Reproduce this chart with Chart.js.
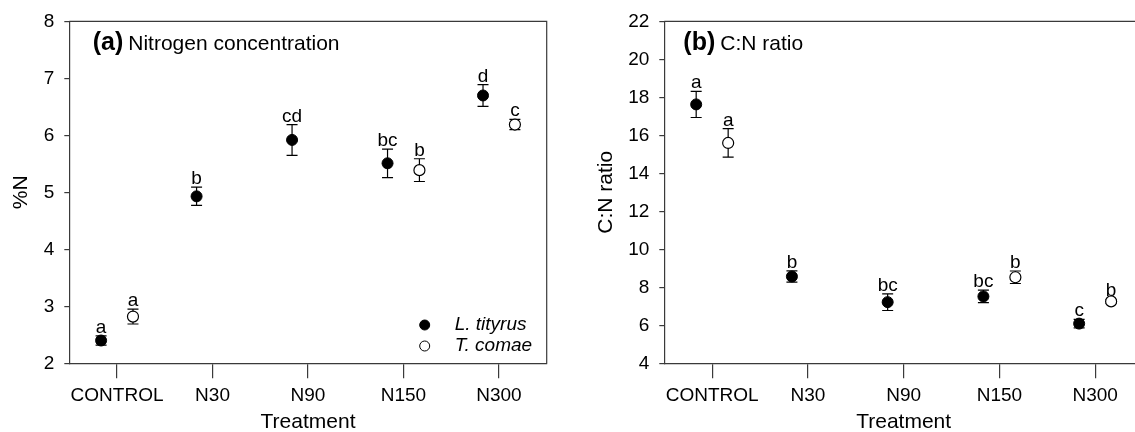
<!DOCTYPE html>
<html>
<head>
<meta charset="utf-8">
<script src="https://cdn.jsdelivr.net/npm/chart.js@4.4.1/dist/chart.umd.min.js"></script>
<style>
html, body { margin: 0; padding: 0; background: #fff; overflow: hidden; width: 1135px; height: 432px; }
#wrapA { position: absolute; left: 0; top: 0; width: 567px; height: 432px; }
#wrapB { position: absolute; left: 567px; top: 0; width: 620px; height: 432px; }
</style>
</head>
<body>
<div id="wrapA"><canvas id="chartA"></canvas></div>
<div id="wrapB"><canvas id="chartB"></canvas></div>
<script>
// categorias y datos
const treatments = ["CONTROL", "N30", "N90", "N150", "N300"];

// (a) %N
const nTityrus = [2.40, 4.93, 5.92, 5.51, 6.70];
const nTityrusErr = [0.08, 0.16, 0.27, 0.25, 0.19];
const nTityrusLetters = ["a", "b", "cd", "bc", "d"];
const nComae = [2.82, null, null, 5.39, 6.19];
const nComaeErr = [0.13, null, null, 0.20, 0.09];
const nComaeLetters = ["a", null, null, "b", "c"];
const yTicksA = [2, 3, 4, 5, 6, 7, 8];

// (b) C:N ratio
const cnTityrus = [17.63, 8.57, 7.22, 7.52, 6.09];
const cnTityrusErr = [0.69, 0.30, 0.44, 0.33, 0.22];
const cnTityrusLetters = ["a", "b", "bc", "bc", "c"];
const cnComae = [15.60, null, null, 8.53, 7.26];
const cnComaeErr = [0.75, null, null, 0.33, 0.10];
const cnComaeLetters = ["a", null, null, "b", "b"];
const yTicksB = [4, 6, 8, 10, 12, 14, 16, 18, 20, 22];

const seriesNames = ["L. tityrus", "T. comae"];

const FONT = "'Liberation Sans', Arial, sans-serif";
const AXIS_COLOR = "#3a3a3a";
const OFF_L = -0.167, OFF_R = 0.167;

Chart.defaults.font.family = FONT;
Chart.defaults.color = "#000";

function toPoints(values, off) {
    return values.map((v, i) => v == null ? null : { x: i + off, y: v }).filter(p => p);
}

// Plugin: barras de error, letras, caja, titulo y leyenda
const panelPlugin = {
    id: "panel",
    beforeDatasetsDraw(chart, args, opts) {
        const { ctx } = chart;
        const xs = chart.scales.x, ys = chart.scales.y;
        ctx.save();
        ctx.strokeStyle = "#000";
        ctx.lineWidth = 1.2;
        opts.series.forEach(s => {
            s.values.forEach((v, i) => {
                if (v == null || s.errors[i] == null) return;
                const px = xs.getPixelForValue(i + s.offset);
                const top = ys.getPixelForValue(v + s.errors[i]);
                const bot = ys.getPixelForValue(v - s.errors[i]);
                ctx.beginPath();
                ctx.moveTo(px, top); ctx.lineTo(px, bot);
                ctx.moveTo(px - 5.5, top); ctx.lineTo(px + 5.5, top);
                ctx.moveTo(px - 5.5, bot); ctx.lineTo(px + 5.5, bot);
                ctx.stroke();
            });
        });
        ctx.restore();
    },
    afterDatasetsDraw(chart, args, opts) {
        const { ctx, chartArea } = chart;
        const xs = chart.scales.x, ys = chart.scales.y;
        ctx.save();
        // letras de significancia
        ctx.fillStyle = "#000";
        ctx.font = "19px " + FONT;
        ctx.textAlign = "center";
        ctx.textBaseline = "alphabetic";
        opts.series.forEach(s => {
            s.values.forEach((v, i) => {
                if (v == null || !s.letters[i]) return;
                const px = xs.getPixelForValue(i + s.offset);
                const top = ys.getPixelForValue(v + s.errors[i]);
                ctx.fillText(s.letters[i], px, top - 3);
            });
        });
        // caja superior y derecha
        ctx.strokeStyle = AXIS_COLOR;
        ctx.lineWidth = 1.2;
        ctx.beginPath();
        ctx.moveTo(chartArea.left, chartArea.top);
        ctx.lineTo(chartArea.right, chartArea.top);
        ctx.lineTo(chartArea.right, chartArea.bottom);
        ctx.stroke();
        // titulo del panel
        ctx.textAlign = "left";
        ctx.font = "bold 25px " + FONT;
        ctx.fillText(opts.tag, opts.titleX, 50);
        const w = ctx.measureText(opts.tag).width;
        ctx.font = "21px " + FONT;
        ctx.fillText(opts.title, opts.titleX + w + 5, 50);
        // leyenda
        if (opts.legend) {
            const lg = opts.legend;
            ctx.textBaseline = "middle";
            ctx.font = "italic 19px " + FONT;
            seriesNames.forEach((name, k) => {
                const y = lg.y + k * 21;
                ctx.beginPath();
                ctx.arc(lg.x, y, 5, 0, Math.PI * 2);
                ctx.fillStyle = k === 0 ? "#000" : "#fff";
                ctx.fill();
                ctx.strokeStyle = "#000";
                ctx.lineWidth = 1;
                ctx.stroke();
                ctx.fillStyle = "#000";
                ctx.fillText(name, lg.x + 30, y);
            });
        }
        ctx.restore();
    }
};

function makePanel(id, cfg) {
    return new Chart(document.getElementById(id), {
        type: "scatter",
        data: {
            datasets: [
                {
                    label: seriesNames[0],
                    data: toPoints(cfg.tityrus, OFF_L),
                    backgroundColor: "#000",
                    borderColor: "#000",
                    borderWidth: 1,
                    pointRadius: 5.5,
                    pointHoverRadius: 5.5
                },
                {
                    label: seriesNames[1],
                    data: toPoints(cfg.comae, OFF_R),
                    backgroundColor: "#fff",
                    borderColor: "#000",
                    borderWidth: 1.2,
                    pointRadius: 5.5,
                    pointHoverRadius: 5.5
                }
            ]
        },
        options: {
            responsive: true,
            maintainAspectRatio: false,
            animation: false,
            events: [],
            layout: { padding: { top: 19, right: cfg.padRight, left: 0, bottom: 0 } },
            plugins: {
                legend: { display: false },
                tooltip: { enabled: false },
                panel: {
                    series: [
                        { values: cfg.tityrus, errors: cfg.tityrusErr, letters: cfg.tityrusLetters, offset: OFF_L },
                        { values: cfg.comae, errors: cfg.comaeErr, letters: cfg.comaeLetters, offset: OFF_R }
                    ],
                    tag: cfg.tag,
                    title: cfg.title,
                    titleX: cfg.titleX,
                    legend: cfg.legend
                }
            },
            scales: {
                x: {
                    type: "linear",
                    min: -0.5,
                    max: 4.5,
                    afterBuildTicks: s => { s.ticks = treatments.map((t, i) => ({ value: i })); },
                    afterFit: s => { s.height = 68.7; },
                    ticks: {
                        callback: v => treatments[v],
                        font: { size: 19 },
                        padding: 6,
                        maxRotation: 0,
                        autoSkip: false
                    },
                    grid: { drawOnChartArea: false, drawTicks: true, tickLength: 15, color: AXIS_COLOR, lineWidth: 1.2 },
                    border: { display: true, color: AXIS_COLOR, width: 1.2 },
                    title: {
                        display: true,
                        text: "Treatment",
                        font: { size: 21, lineHeight: 1 },
                        padding: { top: 0, bottom: -1 }
                    }
                },
                y: {
                    min: cfg.yTicks[0],
                    max: cfg.yTicks[cfg.yTicks.length - 1],
                    afterBuildTicks: s => { s.ticks = cfg.yTicks.map(v => ({ value: v })); },
                    afterFit: s => { s.width = cfg.leftW; },
                    ticks: { font: { size: 19 }, padding: 10 },
                    grid: { drawOnChartArea: false, drawTicks: true, tickLength: 5, color: AXIS_COLOR, lineWidth: 1.2 },
                    border: { display: true, color: AXIS_COLOR, width: 1.2 },
                    title: {
                        display: true,
                        text: cfg.yTitle,
                        font: { size: 21, lineHeight: 1 },
                        padding: { top: cfg.yTitlePad, bottom: 0 }
                    }
                }
            }
        },
        plugins: [panelPlugin]
    });
}

makePanel("chartA", {
    tityrus: nTityrus, tityrusErr: nTityrusErr, tityrusLetters: nTityrusLetters,
    comae: nComae, comaeErr: nComaeErr, comaeLetters: nComaeLetters,
    yTicks: yTicksA, yTitle: "%N", yTitlePad: 11,
    leftW: 69.3, padRight: 20.3,
    tag: "(a)", title: "Nitrogen concentration", titleX: 92.7,
    legend: { x: 424.7, y: 325 }
});

makePanel("chartB", {
    tityrus: cnTityrus, tityrusErr: cnTityrusErr, tityrusLetters: cnTityrusLetters,
    comae: cnComae, comaeErr: cnComaeErr, comaeLetters: cnComaeLetters,
    yTicks: yTicksB, yTitle: "C:N ratio", yTitlePad: 29,
    leftW: 97.3, padRight: 44,
    tag: "(b)", title: "C:N ratio", titleX: 116.3,
    legend: null
});
</script>
</body>
</html>
